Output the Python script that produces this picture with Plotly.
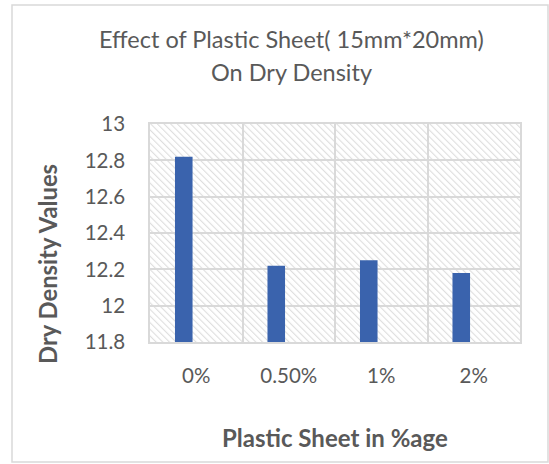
import base64
import plotly.graph_objects as go

# Data
categories = ["0%", "0.50%", "1%", "2%"]
dry_density = [12.82, 12.22, 12.25, 12.18]

y_min, y_max, y_step = 11.8, 13.0, 0.2

W, H = 549, 464
M_L, M_R, M_T, M_B = 150, 29, 124, 122
PW, PH = W - M_L - M_R, H - M_T - M_B

BAR_COLOR = "#3a63ad"
GRID = "#d9d9d9"
TEXT = "#595959"
FONT = "Lato, Carlito, Calibri, sans-serif"

# diagonal hatch used as the plot-area background
svg = f"""<svg xmlns='http://www.w3.org/2000/svg' width='{PW}' height='{PH}' viewBox='0 0 {PW} {PH}'>
<defs><pattern id='h' width='4.7' height='4.7' patternUnits='userSpaceOnUse' patternTransform='rotate(-45)'>
<rect width='4.7' height='4.7' fill='white'/>
<line x1='0' y1='0' x2='0' y2='4.7' stroke='#dedede' stroke-width='2.2'/></pattern></defs>
<rect width='{PW}' height='{PH}' fill='url(#h)'/></svg>"""
hatch_uri = "data:image/svg+xml;base64," + base64.b64encode(svg.encode()).decode()

x_idx = list(range(len(categories)))

fig = go.Figure()
fig.add_trace(go.Bar(
    x=x_idx, y=[v - y_min for v in dry_density], base=y_min,
    width=0.19, offset=-0.23,
    marker=dict(color=BAR_COLOR, line=dict(width=0)),
    customdata=dry_density,
    hovertemplate="%{customdata}<extra></extra>",
))

def px_to_paper_x(px):
    return (px - M_L) / PW

def px_to_paper_y(py):
    return (H - M_B - py) / PH

fig.update_layout(
    width=W, height=H,
    margin=dict(l=M_L, r=M_R, t=M_T, b=M_B),
    paper_bgcolor="white",
    plot_bgcolor="rgba(0,0,0,0)",
    showlegend=False,
    font=dict(family=FONT, color=TEXT),
    images=[dict(source=hatch_uri, xref="paper", yref="paper", x=0, y=1,
                 sizex=1, sizey=1, sizing="stretch", xanchor="left",
                 yanchor="top", layer="below")],
    xaxis=dict(
        range=[-0.5, len(categories) - 0.5],
        tickmode="array", tickvals=x_idx, ticktext=categories,
        showgrid=False, zeroline=False,
        ticks="outside", ticklen=15, tickcolor="rgba(0,0,0,0)",
        tickfont=dict(size=20.5, color=TEXT),
        showline=True, mirror=True, linecolor=GRID, linewidth=1.5,
        minor=dict(tick0=-0.5, dtick=1, showgrid=True, gridcolor=GRID,
                   gridwidth=1.5, ticks=""),
    ),
    yaxis=dict(
        range=[y_min, y_max], dtick=y_step, tick0=y_min,
        showgrid=True, gridcolor=GRID, gridwidth=1.5, zeroline=False,
        ticks="outside", ticklen=19, tickcolor="rgba(0,0,0,0)",
        tickfont=dict(size=20.5, color=TEXT),
        showline=True, mirror=True, linecolor=GRID, linewidth=1.5,
    ),
    shapes=[dict(type="rect", xref="paper", yref="paper",
                 x0=px_to_paper_x(12), x1=px_to_paper_x(548),
                 y0=px_to_paper_y(462), y1=px_to_paper_y(5),
                 line=dict(color="#d9d9d9", width=1.5), fillcolor="rgba(0,0,0,0)")],
    annotations=[
        dict(text="Effect of Plastic Sheet( 15mm*20mm)", xref="paper", yref="paper",
             x=px_to_paper_x(291), y=px_to_paper_y(39), xanchor="center", yanchor="middle",
             showarrow=False, font=dict(size=23.5, color=TEXT)),
        dict(text="On Dry Density", xref="paper", yref="paper",
             x=px_to_paper_x(291), y=px_to_paper_y(72), xanchor="center", yanchor="middle",
             showarrow=False, font=dict(size=23.5, color=TEXT)),
        dict(text="<b>Dry Density Values</b>", xref="paper", yref="paper",
             x=px_to_paper_x(48), y=px_to_paper_y(264), xanchor="center", yanchor="middle",
             textangle=-90, showarrow=False, font=dict(size=23.8, color=TEXT)),
        dict(text="<b>Plastic Sheet in %age</b>", xref="paper", yref="paper",
             x=0.5, y=px_to_paper_y(437), xanchor="center", yanchor="middle",
             showarrow=False, font=dict(size=24, color=TEXT)),
    ],
)

fig.write_html("out.html")
